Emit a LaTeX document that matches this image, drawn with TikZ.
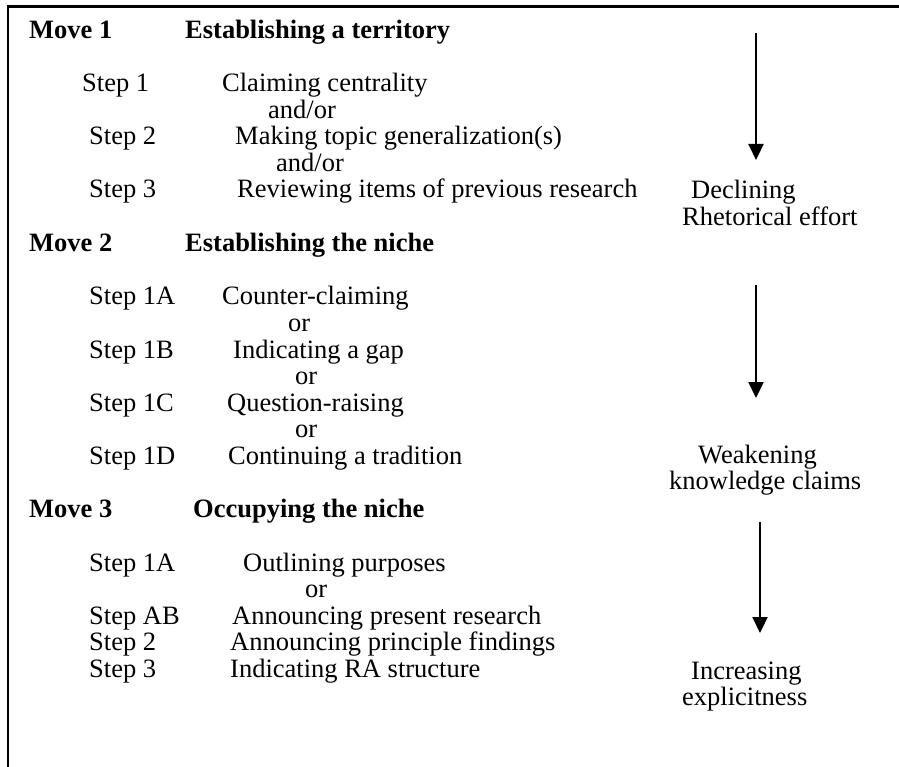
\documentclass[tikz,border=0pt]{standalone}
\usepackage{fontspec}
\setmainfont{Liberation Serif}
\usetikzlibrary{arrows.meta}
\begin{document}
\begin{tikzpicture}[x=1pt,y=-1pt,
  txt/.style={anchor=base west,inner sep=0pt,font=\fontsize{26.5}{26.5}\selectfont},
  mv/.style={txt,font=\fontsize{26.5}{26.5}\selectfont\bfseries},
  frame/.style={line width=2.8pt},
  trend/.style={line width=2.2pt,-{Triangle[width=15pt,length=16pt]}}]
\useasboundingbox (0,0) rectangle (899,767);
\coordinate (ftr) at (899,6.7);
\coordinate (ftl) at (8,6.7);
\coordinate (fbl) at (8,767);
\draw[frame] (ftr) -- (ftl) -- (fbl);
% Move 1
\node[mv] (m1) at (29,39) {Move 1};
\node[mv] (m1t) at (185,39) {Establishing a territory};
\node[txt] (s11) at (82,92) {Step 1};
\node[txt] (s11t) at (222,92) {Claiming centrality};
\node[txt] (ao1) at (268,118.5) {and/or};
\node[txt] (s12) at (89,145) {Step 2};
\node[txt] (s12t) at (235,145) {Making topic generalization(s)};
\node[txt] (ao2) at (276,171.5) {and/or};
\node[txt] (s13) at (89,198) {Step 3};
\node[txt] (s13t) at (237,198) {Reviewing items of previous research};
% Move 2
\node[mv] (m2) at (29,252) {Move 2};
\node[mv] (m2t) at (185,252) {Establishing the niche};
\node[txt] (s21a) at (89,305) {Step 1A};
\node[txt] (s21at) at (222,305) {Counter-claiming};
\node[txt] (or1) at (288,331.5) {or};
\node[txt] (s21b) at (89,358) {Step 1B};
\node[txt] (s21bt) at (233,358) {Indicating a gap};
\node[txt] (or2) at (295,384.5) {or};
\node[txt] (s21c) at (89,411) {Step 1C};
\node[txt] (s21ct) at (227,411) {Question-raising};
\node[txt] (or3) at (295,437.5) {or};
\node[txt] (s21d) at (89,464) {Step 1D};
\node[txt] (s21dt) at (228,464) {Continuing a tradition};
% Move 3
\node[mv] (m3) at (29,517) {Move 3};
\node[mv] (m3t) at (193,517) {Occupying the niche};
\node[txt] (s31a) at (89,571) {Step 1A};
\node[txt] (s31at) at (243,571) {Outlining purposes};
\node[txt] (or4) at (305,597.5) {or};
\node[txt] (s3ab) at (89,624) {Step AB};
\node[txt] (s3abt) at (232,624) {Announcing present research};
\node[txt] (s32) at (89,650.5) {Step 2};
\node[txt] (s32t) at (230,650.5) {Announcing principle findings};
\node[txt] (s33) at (89,677) {Step 3};
\node[txt] (s33t) at (230,677) {Indicating RA structure};
% right side
\coordinate (a1s) at (756,33);
\coordinate (a1e) at (756,160);
\draw[trend] (a1s) -- (a1e);
\node[txt] (r1a) at (691,199) {Declining};
\node[txt] (r1b) at (682,225.5) {Rhetorical effort};
\coordinate (a2s) at (756,285);
\coordinate (a2e) at (756,398);
\draw[trend] (a2s) -- (a2e);
\node[txt] (r2a) at (698,463) {Weakening};
\node[txt] (r2b) at (669,489.5) {knowledge claims};
\coordinate (a3s) at (760,522);
\coordinate (a3e) at (760,633);
\draw[trend] (a3s) -- (a3e);
\node[txt] (r3a) at (691,679) {Increasing};
\node[txt] (r3b) at (682,705.5) {explicitness};
\end{tikzpicture}
\end{document}
